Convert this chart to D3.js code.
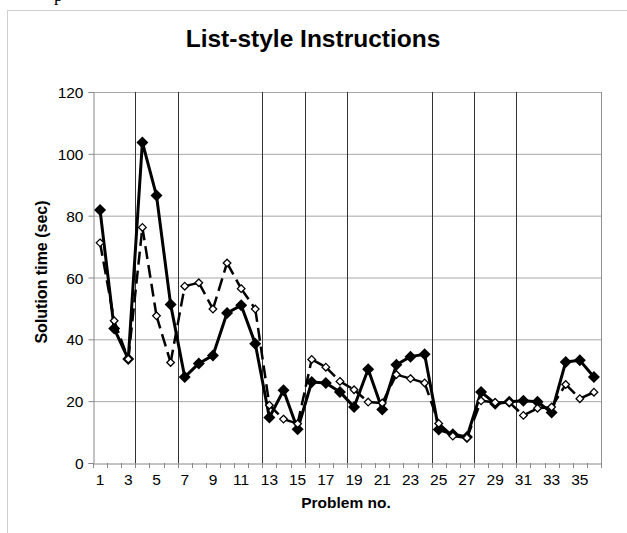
<!DOCTYPE html>
<html>
<head>
<meta charset="utf-8">
<script src="https://cdn.jsdelivr.net/npm/d3@7"></script>
<style>
  html, body { margin: 0; padding: 0; background: #fff; }
  svg { display: block; }
  text { font-family: "Liberation Sans", Arial, Helvetica, sans-serif; fill: #000; }
</style>
</head>
<body>
<svg id="chart" width="627" height="533"></svg>
<script>
// Problem numbers 1..36
const problems = [1,2,3,4,5,6,7,8,9,10,11,12,13,14,15,16,17,18,19,20,21,22,23,24,25,26,27,28,29,30,31,32,33,34,35,36];

// Solution times (sec), filled-diamond series
const filledTimes = [81.8,43.5,33.6,103.7,86.5,51.3,27.8,32.2,34.8,48.5,51,38.6,14.7,23.5,10.9,26.2,25.9,23,18.1,30.3,17.3,31.8,34.4,35.2,10.8,9.3,8.4,23,19.2,19.8,20.1,19.8,16.3,32.7,33.2,27.8];

// Solution times (sec), open-diamond series
const openTimes = [71.2,46,33.6,76.2,47.6,32.5,57.2,58.3,49.8,64.7,56.4,49.8,18.7,14.2,12.7,33.5,31,26.4,23.7,19.7,19.4,28.6,27.3,25.9,12.8,8.7,8.1,20.1,19.6,19.6,15.4,17.7,18.1,25.4,20.8,22.9];

// Problem numbers after which a block boundary is drawn
const blockEnds = [3,6,12,15,18,24,27,30];

// Axis tick labels
const yTicks = [0,20,40,60,80,100,120];
const xTickLabels = [1,3,5,7,9,11,13,15,17,19,21,23,25,27,29,31,33,35];

const svg = d3.select("#chart");

// page frame
svg.append("rect")
  .attr("x", 7.5).attr("y", 10.5)
  .attr("width", 640).attr("height", 540)
  .attr("fill", "none").attr("stroke", "#cfcfcf").attr("stroke-width", 1);

// descender of the line above the frame
svg.append("text")
  .attr("x", 54).attr("y", 1)
  .style("font-family", "'Liberation Serif', 'Times New Roman', serif")
  .style("font-size", "18px")
  .text("p");

const plot = { left: 93, right: 601, top: 92, bottom: 463 };

const x = d3.scaleBand().domain(problems).range([plot.left, plot.right]).padding(0);
const y = d3.scaleLinear().domain([0, 120]).range([plot.bottom, plot.top]);
const cx = d => x(d) + x.bandwidth() / 2;

// horizontal gridlines
svg.append("g").selectAll("line")
  .data(yTicks.filter(v => v > 0))
  .join("line")
  .attr("x1", plot.left).attr("x2", plot.right)
  .attr("y1", d => y(d) + 0.5).attr("y2", d => y(d) + 0.5)
  .attr("stroke", "#a8a8a8").attr("stroke-width", 1);

// right border of plot area
svg.append("line")
  .attr("x1", plot.right + 0.5).attr("x2", plot.right + 0.5)
  .attr("y1", plot.top).attr("y2", plot.bottom)
  .attr("stroke", "#909090").attr("stroke-width", 1);

// block boundaries
svg.append("g").selectAll("line")
  .data(blockEnds)
  .join("line")
  .attr("x1", d => Math.round(x(d) + x.bandwidth()) + 0.5)
  .attr("x2", d => Math.round(x(d) + x.bandwidth()) + 0.5)
  .attr("y1", plot.top).attr("y2", plot.bottom)
  .attr("stroke", "#333").attr("stroke-width", 1);

// y axis
const yAxis = svg.append("g")
  .attr("transform", `translate(${plot.left + 0.5},0)`)
  .call(d3.axisLeft(y).tickValues(yTicks).tickSize(5).tickPadding(5));
yAxis.select(".domain").attr("stroke", "#888");
yAxis.selectAll(".tick line").attr("stroke", "#888");
yAxis.selectAll(".tick text")
  .style("font-size", "15.5px").attr("dy", "0.36em");

// x axis: labels on odd problems, tick marks on category edges
const xAxis = svg.append("g")
  .attr("transform", `translate(0,${plot.bottom + 0.5})`)
  .call(d3.axisBottom(x).tickValues(xTickLabels).tickSize(0).tickPadding(10));
xAxis.select(".domain").attr("stroke", "#888");
xAxis.selectAll(".tick text").style("font-size", "15.5px");

svg.append("g").selectAll("line")
  .data(problems)
  .join("line")
  .attr("x1", d => Math.round(x(d)) + 0.5)
  .attr("x2", d => Math.round(x(d)) + 0.5)
  .attr("y1", plot.bottom).attr("y2", plot.bottom + 5)
  .attr("stroke", "#888");
svg.append("line")
  .attr("x1", plot.right + 0.5).attr("x2", plot.right + 0.5)
  .attr("y1", plot.bottom).attr("y2", plot.bottom + 5)
  .attr("stroke", "#888");

// filled series: solid line
const filledPts = problems.map((p, i) => [cx(p), y(filledTimes[i])]);
svg.append("path")
  .attr("d", d3.line()(filledPts))
  .attr("fill", "none").attr("stroke", "#000")
  .attr("stroke-width", 3).attr("stroke-linejoin", "round");

// filled diamonds
const diamond = s => `M0,${-s}L${s},0L0,${s}L${-s},0Z`;
svg.append("g").selectAll("path")
  .data(filledPts)
  .join("path")
  .attr("transform", d => `translate(${d[0]},${d[1]})`)
  .attr("d", diamond(6))
  .attr("fill", "#000");

// open series: dashed, pattern restarting on each segment
const openPts = problems.map((p, i) => [cx(p), y(openTimes[i])]);
svg.append("g").selectAll("line")
  .data(d3.pairs(openPts))
  .join("line")
  .attr("x1", d => d[0][0]).attr("y1", d => d[0][1])
  .attr("x2", d => d[1][0]).attr("y2", d => d[1][1])
  .attr("stroke", "#000").attr("stroke-width", 2.5)
  .attr("stroke-dasharray", "13,6");

// open diamonds
svg.append("g").selectAll("path")
  .data(openPts)
  .join("path")
  .attr("transform", d => `translate(${d[0]},${d[1]})`)
  .attr("d", diamond(3.8))
  .attr("fill", "#fff").attr("stroke", "#000").attr("stroke-width", 1.3);

// title and axis titles
svg.append("text")
  .attr("x", 313).attr("y", 47)
  .attr("text-anchor", "middle")
  .style("font-size", "24.5px").style("font-weight", "bold")
  .text("List-style Instructions");

svg.append("text")
  .attr("transform", "translate(47,272) rotate(-90)")
  .attr("text-anchor", "middle")
  .style("font-size", "16px").style("font-weight", "bold")
  .text("Solution time (sec)");

svg.append("text")
  .attr("x", 346).attr("y", 508)
  .attr("text-anchor", "middle")
  .style("font-size", "15.5px").style("font-weight", "bold")
  .text("Problem no.");
</script>
</body>
</html>
